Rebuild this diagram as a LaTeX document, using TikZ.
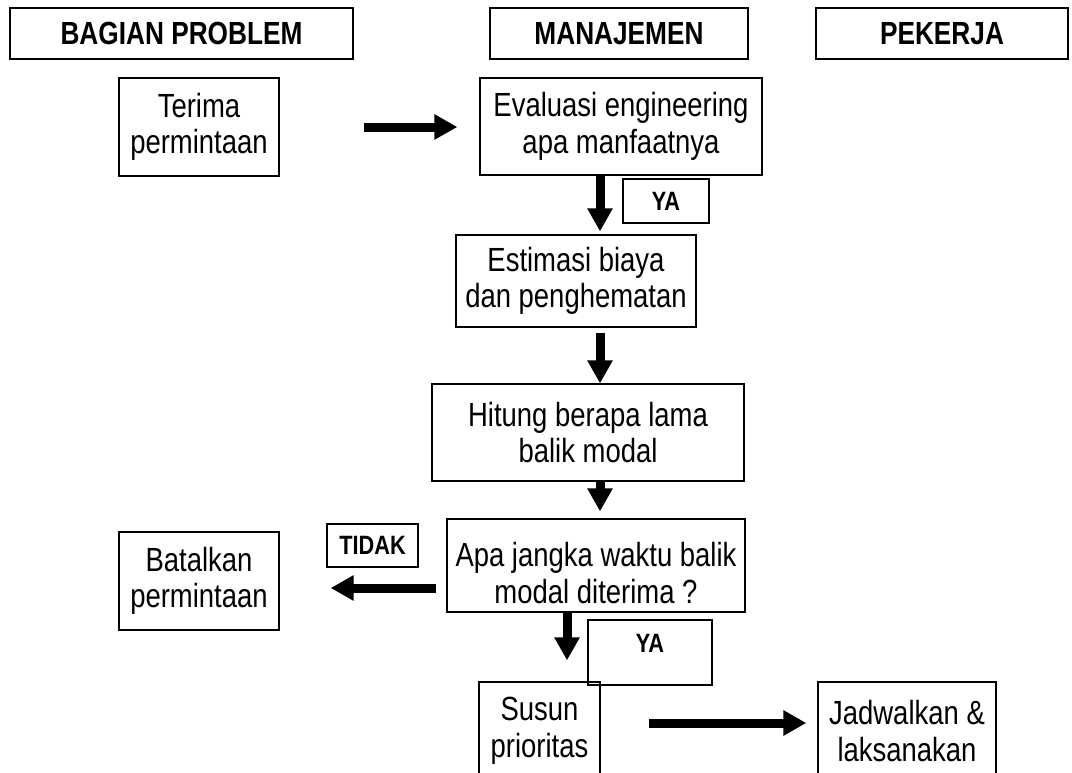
\documentclass[tikz,border=0pt]{standalone}
\usepackage{fontspec}
\setmainfont[FakeStretch=0.82]{Liberation Sans}
\usetikzlibrary{arrows.meta,calc}
\tikzset{
  box/.style={draw, line width=1.3pt, inner sep=0pt, align=center,
    font=\fontsize{33.5}{36.5}\selectfont},
  hdr/.style={box, font=\bfseries\fontsize{32}{37}\selectfont},
  tagbox/.style={draw, line width=1.3pt, inner sep=0pt},
  tagtext/.style={inner sep=0pt, font=\bfseries\fontsize{26.5}{30}\selectfont},
  txt/.style={inner sep=0pt, align=center, font=\fontsize{33.5}{36.5}\selectfont},
  arr/.style={line width=9pt, -{Triangle[width=24pt,length=23pt]}},
}
\begin{document}
\begin{tikzpicture}[x=1pt,y=-1pt]
\useasboundingbox (0,0) rectangle (1072,772);
\clip (0,0) rectangle (1072,772);

% column headers
\node[hdr, minimum width=343, minimum height=51] (hA) at (181.5,33.5) {BAGIAN PROBLEM};
\node[hdr, minimum width=258, minimum height=51] (hB) at (619,33.5) {MANAJEMEN};
\node[hdr, minimum width=252, minimum height=51] (hC) at (942,33.5) {PEKERJA};

% process boxes
\node[box, minimum width=160, minimum height=98] (terima) at (199,127) {Terima\\permintaan};
\node[box, minimum width=282, minimum height=97] (eval) at (621,126.5) {Evaluasi engineering\\apa manfaatnya};
\node[box, minimum width=240, minimum height=92] (estimasi) at (576,281) {Estimasi biaya\\dan penghematan};
\node[box, minimum width=312, minimum height=97] (hitung) at (588,432.5) {Hitung berapa lama\\balik modal};
\node[box, minimum width=298, minimum height=93] (apa) at (596,565.5) {};
\node[txt] (apatext) at (596,573) {Apa jangka waktu balik\\modal diterima ?};
\node[box, minimum width=160, minimum height=98] (batal) at (199,581) {Batalkan\\permintaan};
\node[box, minimum width=121, minimum height=98] (susun) at (539.5,731) {Susun\\prioritas};
\node[box, minimum width=178, minimum height=98] (jadwal) at (907,731) {Jadwalkan \&\\laksanakan};

% decision tags
\node[tagbox, minimum width=86, minimum height=44] (ya1) at (666,201) {};
\node[tagtext] (ya1t) at (666,201) {YA};
\node[tagbox, minimum width=91, minimum height=43] (tidak) at (372.5,545.5) {};
\node[tagtext] (tidakt) at (372.5,545.5) {TIDAK};
\node[tagbox, minimum width=124, minimum height=65] (ya2) at (650,652.5) {};
\node[tagtext] (ya2t) at (650,643) {YA};

% guide coordinates for the connectors
\coordinate (colA) at (600,0);
\coordinate (colB) at (567,0);
\coordinate (rowT) at (0,588);
\coordinate (rowS) at (0,723);

% connectors
\draw[arr, shorten <=84pt, shorten >=22pt] (terima.east) -- (eval.west |- terima.east);
\draw[arr, shorten >=3pt] (eval.south -| colA) -- (estimasi.north -| colA);
\draw[arr, shorten <=5pt] (estimasi.south -| colA) -- (hitung.north -| colA);
\draw[arr, shorten >=7pt] (hitung.south -| colA) -- (apa.north -| colA);
\draw[arr, shorten <=10pt, shorten >=51pt] (apa.west |- rowT) -- (batal.east |- rowT);
\draw[arr, shorten >=21pt] (apa.south -| colB) -- (susun.north -| colB);
\draw[arr, shorten <=48pt, shorten >=11pt] (susun.east |- rowS) -- (jadwal.west |- rowS);
\end{tikzpicture}
\end{document}
